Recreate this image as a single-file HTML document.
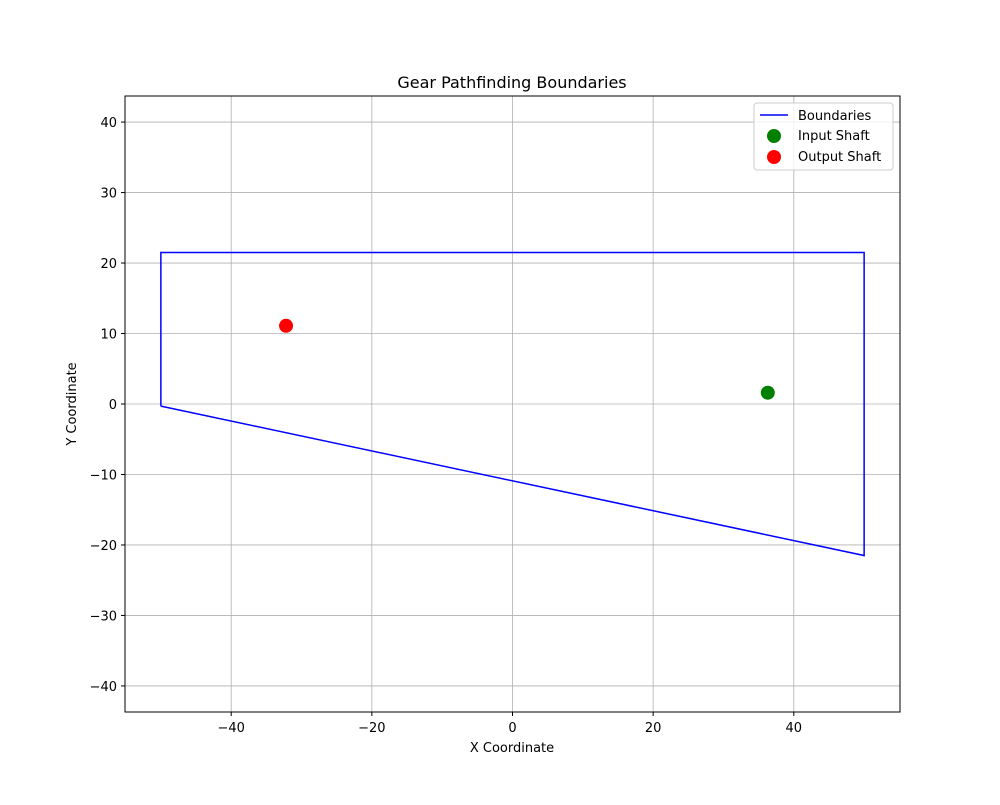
<!DOCTYPE html>
<html><head><meta charset="utf-8"><style>
body{margin:0;background:#fff;font-family:"Liberation Sans","DejaVu Sans",sans-serif;}
text{font-family:"DejaVu Sans","Liberation Sans",sans-serif;}
</style></head><body>
<svg id="chart" width="1000" height="800" xmlns="http://www.w3.org/2000/svg">
<rect width="1000" height="800" fill="#fff"/>
<g id="grid"></g>
<g id="marks"></g>
<rect x="125" y="96" width="775" height="616" fill="none" stroke="#000" stroke-width="1"/>
<g id="ticks"></g>
<text x="512" y="88" text-anchor="middle" font-size="16">Gear Pathfinding Boundaries</text>
<text x="512" y="752" text-anchor="middle" font-size="13">X Coordinate</text>
<text x="76" y="404" text-anchor="middle" font-size="13" transform="rotate(-90 76 404)">Y Coordinate</text>
<g>
<rect x="754" y="103" width="139" height="67" rx="3" fill="#fff" fill-opacity="0.8" stroke="#ccc"/>
<g><line x1="760" y1="115" x2="788" y2="115" stroke="#0000ff" stroke-width="1.5"/><text x="798" y="120" font-size="13">Boundaries</text></g>
<g><circle cx="774" cy="136" r="7" fill="green"/><text x="798" y="140" font-size="13">Input Shaft</text></g>
<g><circle cx="774" cy="157" r="7" fill="red"/><text x="798" y="161" font-size="13">Output Shaft</text></g>
</g>
</svg>
<script>
const xTicks=[-40,-20,0,20,40];
const yTicks=[-40,-30,-20,-10,0,10,20,30,40];
const boundaryX=[-50,-50,50,50,-50];
const boundaryY=[-0.3,21.5,21.5,-21.5,-0.3];
const inputShaft=[36.3,1.6];
const outputShaft=[-32.2,11.1];
const X0=125,X1=900,Y0=96,Y1=712,xmin=-55.1,xmax=55.1,ymin=-43.7,ymax=43.7;
const sx=v=>X0+(v-xmin)/(xmax-xmin)*(X1-X0);
const sy=v=>Y1-(v-ymin)/(ymax-ymin)*(Y1-Y0);
const NS='http://www.w3.org/2000/svg';
const grid=document.getElementById('grid'),ticks=document.getElementById('ticks'),marks=document.getElementById('marks');
function mk(t,a,p){const e=document.createElementNS(NS,t);for(const k in a)e.setAttribute(k,a[k]);p.appendChild(e);return e;}
const fmt=v=>v<0?'\u2212'+(-v):''+v;
xTicks.forEach(v=>{const x=sx(v);
const g=mk('line',{x1:x,x2:x,y1:Y0,y2:Y1,stroke:'#b0b0b0','stroke-width':0.8},grid);


mk('line',{x1:x,x2:x,y1:Y1,y2:Y1+4,stroke:'#000'},ticks);
const t=mk('text',{x:x,y:Y1+20,'text-anchor':'middle','font-size':13},ticks);t.textContent=fmt(v);

});
yTicks.forEach(v=>{const y=sy(v);
const g=mk('line',{x1:X0,x2:X1,y1:y,y2:y,stroke:'#b0b0b0','stroke-width':0.8},grid);


mk('line',{x1:X0-4,x2:X0,y1:y,y2:y,stroke:'#000'},ticks);
const t=mk('text',{x:X0-8,y:y+5,'text-anchor':'end','font-size':13},ticks);t.textContent=fmt(v);

});
const pts=boundaryX.map((v,i)=>sx(v)+','+sy(boundaryY[i])).join(' ');
const pl=mk('polyline',{points:pts,fill:'none',stroke:'#0000ff','stroke-width':1.5},marks);


const c1=mk('circle',{cx:sx(inputShaft[0]),cy:sy(inputShaft[1]),r:7,fill:'green'},marks);


const c2=mk('circle',{cx:sx(outputShaft[0]),cy:sy(outputShaft[1]),r:7,fill:'red'},marks);


</script>
</body></html>
